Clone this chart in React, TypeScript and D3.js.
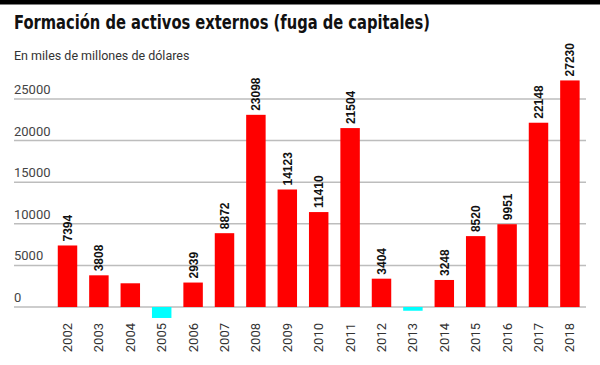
import { useEffect, useRef } from 'react'
import * as d3 from 'd3'

const YEARS = ['2002', '2003', '2004', '2005', '2006', '2007', '2008', '2009', '2010', '2011', '2012', '2013', '2014', '2015', '2016', '2017', '2018']
const VALUES = [7394, 3808, 2850, -1320, 2939, 8872, 23098, 14123, 11410, 21504, 3404, -450, 3248, 8520, 9951, 22148, 27230]
// which bars carry a number above them
const SHOW_LABEL = [true, true, false, false, true, true, true, true, true, true, true, false, true, true, true, true, true]
const Y_TICKS = [0, 5000, 10000, 15000, 20000, 25000]

const TITLE = 'Formación de activos externos (fuga de capitales)'
const SUBTITLE = 'En miles de millones de dólares'

export default function App() {
  const ref = useRef<SVGSVGElement>(null)

  useEffect(() => {
    if (!ref.current) return
    const width = 600
    const height = 365
    const svg = d3.select(ref.current)
    svg.selectAll('*').remove()
    svg.attr('width', width).attr('height', height)

    const data = YEARS.map((year, i) => ({ year, value: VALUES[i], label: SHOW_LABEL[i] }))

    svg.append('rect').attr('width', width).attr('height', height).attr('fill', '#fff')
    svg.append('rect').attr('width', width).attr('height', 4.5).attr('fill', '#000')

    svg.append('text')
      .attr('x', 14)
      .attr('y', 29)
      .attr('font-family', '"Liberation Sans Narrow", "DejaVu Sans Condensed", Roboto, sans-serif')
      .attr('font-weight', 700)
      .attr('font-size', '19px')
      .attr('fill', '#111')
      .attr('textLength', 416)
      .attr('lengthAdjust', 'spacingAndGlyphs')
      .text(TITLE)

    svg.append('text')
      .attr('x', 14)
      .attr('y', 60)
      .attr('font-family', 'Roboto, "Liberation Sans", sans-serif')
      .attr('font-size', '12.5px')
      .attr('fill', '#333')
      .text(SUBTITLE)

    const x = d3.scaleBand<string>()
      .domain(YEARS)
      .range([51.8, 585.6])
      .paddingInner(0.38)
      .paddingOuter(0.19)

    const y = d3.scaleLinear().domain([0, 25000]).range([307, 99])

    const grid = svg.append('g')
    Y_TICKS.forEach((t) => {
      grid.append('line')
        .attr('x1', 14)
        .attr('x2', 586)
        .attr('y1', y(t))
        .attr('y2', y(t))
        .attr('stroke', '#bdbdbd')
        .attr('stroke-width', 1.5)
      grid.append('text')
        .attr('x', 14)
        .attr('y', y(t) - 5)
        .attr('font-family', 'Roboto, "Liberation Sans", sans-serif')
        .attr('font-size', '13px')
        .attr('fill', '#444')
        .text(t)
    })

    svg.append('g')
      .selectAll('rect')
      .data(data)
      .enter()
      .append('rect')
      .attr('x', (d) => x(d.year)!)
      .attr('width', x.bandwidth())
      .attr('y', (d) => (d.value >= 0 ? y(d.value) : y(0)))
      .attr('height', (d) => Math.abs(y(d.value) - y(0)))
      .attr('fill', (d) => (d.value >= 0 ? '#ff0000' : '#00ffff'))

    svg.append('g')
      .selectAll('text')
      .data(data.filter((d) => d.label))
      .enter()
      .append('text')
      .attr('transform', (d) => `translate(${x(d.year)! + x.bandwidth() / 2 + 4.5},${y(d.value) - 4}) rotate(-90)`)
      .attr('font-family', '"Liberation Sans", Arial, sans-serif')
      .attr('font-weight', 700)
      .attr('font-size', '12px')
      .attr('fill', '#111')
      .text((d) => d.value)

    svg.append('g')
      .selectAll('text')
      .data(data)
      .enter()
      .append('text')
      .attr('transform', (d) => `translate(${x(d.year)! + x.bandwidth() / 2 + 4.5},323) rotate(-90)`)
      .attr('text-anchor', 'end')
      .attr('font-family', 'Roboto, "Liberation Sans", sans-serif')
      .attr('font-size', '13px')
      .attr('fill', '#333')
      .text((d) => d.year)
  }, [])

  return (
    <div style={{ position: 'fixed', left: 0, top: 0 }}>
      <svg ref={ref} />
    </div>
  )
}
